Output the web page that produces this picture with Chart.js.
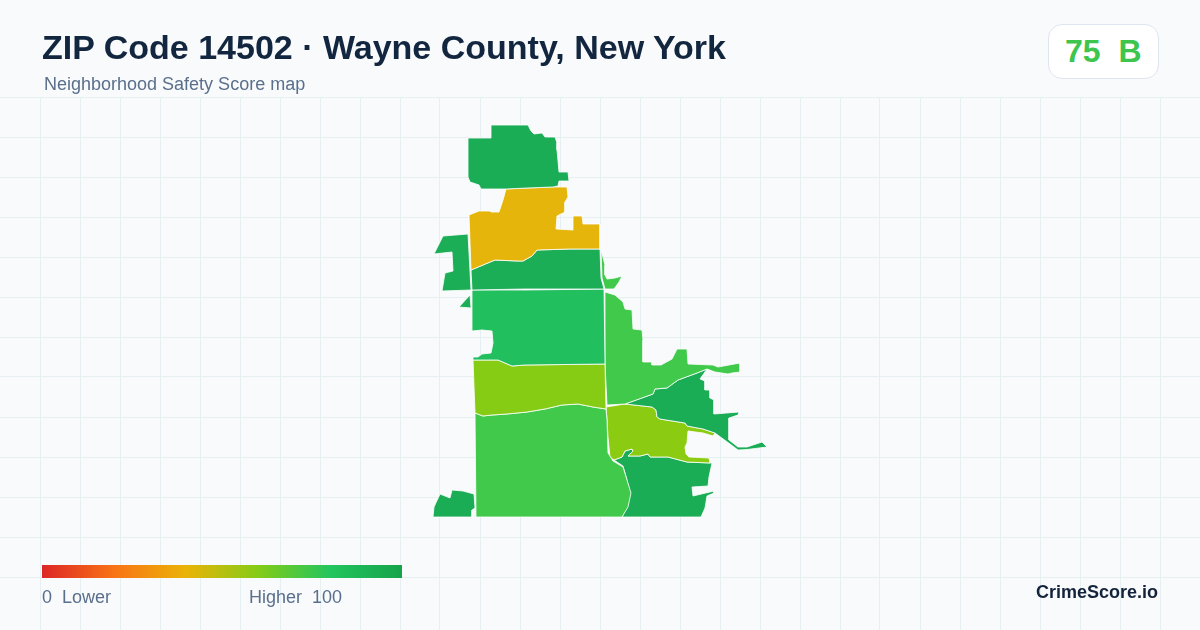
<!DOCTYPE html>
<html><head><meta charset="utf-8">
<script src="https://cdn.jsdelivr.net/npm/chart.js@4"></script>
<style>
html,body{margin:0;padding:0;width:1200px;height:630px;overflow:hidden;background:#f8fafc;font-family:"Liberation Sans",Arial,sans-serif}
#c{position:absolute;left:0;top:0;width:1200px;height:630px}
.t{position:absolute;white-space:pre;line-height:1}
#title{left:42px;top:30px;font-size:34px;font-weight:700;color:#12263f}
#sub{left:44px;top:75px;font-size:18px;color:#5a6f8c}
#badge{position:absolute;left:1048px;top:24px;width:109px;height:53px;background:#fff;border:1px solid #dfe5ee;border-radius:14px}
#score{left:1065px;top:35px;font-size:32px;font-weight:700;color:#3dc54e}
#bar{position:absolute;left:42px;top:565px;width:360px;height:13px;background:linear-gradient(90deg,#dc2626 0%,#f97316 20%,#eab308 40%,#84cc16 60%,#22c55e 80%,#16a34a 100%)}
#lo{left:42px;top:588px;font-size:18px;color:#5a6f8c}
#hi{right:858px;top:588px;font-size:18px;color:#5a6f8c}
#brand{right:42px;top:583px;font-size:18px;font-weight:700;color:#14233c}
</style></head><body>
<canvas id="c" width="1200" height="630"></canvas>
<div id="title" class="t">ZIP Code 14502 · Wayne County, New York</div>
<div id="sub" class="t">Neighborhood Safety Score map</div>
<div id="badge"></div><div id="score" class="t">75  B</div>
<div id="bar"></div>
<div id="lo" class="t">0  Lower</div><div id="hi" class="t">Higher  100</div>
<div id="brand" class="t">CrimeScore.io</div>
<script>
// Map-unit outlines: [easting, northing]
const northArea=[[51,372],[88,372],[91,366],[94,363],[102,364],[105,360],[115,360],[117,354],[117,347],[119,325],[128,325],[129,316],[119,316],[118,311],[113,310],[87,309],[66,308],[41,308],[39,312],[30,315],[28,320],[28,359],[51,359]];
const goldArea=[[66,308],[87,309],[113,310],[127,310],[128,300],[125,295],[125,285],[117,281],[116,268],[133,267],[133,281],[142,281],[143,273],[160,273],[160,248],[130,248],[97,247],[92,241],[83,236],[77,236],[55,237],[43,232],[31,227],[29,282],[39,286],[50,286],[51,285],[59,285],[63,297]];
const bandArea=[[31,227],[43,232],[55,237],[77,236],[83,236],[92,241],[97,247],[130,248],[160,248],[161,219],[164,208],[85,208],[32,207]];
const westArea=[[3,261],[28,263],[31,207],[2,206],[5,224],[13,226],[12,245],[-6,243]];
const westIslet=[[19,190],[30,202],[31,189]];
const middleArea=[[32,207],[85,207],[164,208],[165,133],[85,132],[72,131],[65,134],[58,137],[33,137],[33,140],[38,140],[42,143],[51,144],[53,154],[52,166],[42,167],[32,166]];
const limeArea=[[33,137],[58,137],[65,134],[72,131],[85,132],[165,133],[166,88],[153,90],[138,93],[122,92],[105,88],[87,85],[67,83],[52,82],[43,81],[35,84]];
const southArea=[[35,84],[43,81],[52,82],[67,83],[87,85],[105,88],[122,92],[138,93],[153,90],[166,88],[167,77],[168,44],[173,36],[183,30],[187,17],[191,4],[188,-10],[182,-20],[36,-20]];
const southwestArea=[[-7,-20],[-6,-10],[0,3],[10,-1],[12,7],[23,6],[34,3],[35,-11],[32,-13],[32,-20]];
const eastArea=[[165,205],[175,202],[183,195],[185,188],[192,187],[193,168],[202,167],[203,157],[203,135],[212,135],[212,132],[221,132],[232,138],[237,148],[247,148],[248,133],[273,132],[278,130],[300,134],[300,125],[292,124],[288,123],[275,125],[267,128],[257,124],[238,117],[227,109],[215,108],[213,103],[185,93],[167,92],[165,133]];
const eastIslet=[[161,247],[165,232],[165,222],[167,218],[175,219],[182,221],[179,215],[174,208],[165,208],[162,219]];
const lakeArea=[[185,93],[213,103],[215,108],[227,109],[238,117],[257,124],[267,128],[260,118],[265,116],[265,107],[270,107],[270,99],[274,97],[274,83],[299,85],[298,82],[289,79],[289,57],[298,50],[307,50],[322,55],[327,50],[307,47.5],[298,47],[290,53],[275,64],[263,68],[247,71],[245,74],[220,78],[217,80],[216,87],[212,90]];
const centerArea=[[166,90],[185,93],[212,90],[216,87],[217,80],[220,78],[245,74],[247,71],[263,68],[275,64],[273,61],[263,64],[248,66],[247,54],[245,50],[246,43],[249,40],[269,39],[270,34],[247,35],[228,40],[210,40],[208,43],[200,41],[188,41],[193,46],[192,48],[185,46],[182,40],[174,37],[170,40],[168,60],[167,77]];
const southeastArea=[[174,37],[182,40],[185,46],[192,48],[193,46],[188,41],[200,41],[208,43],[210,40],[228,40],[247,35],[270,34],[272,34],[269,20],[268,11],[252,10],[253,1],[274,6],[274,4],[267,1],[265,-11],[261,-20],[182,-20],[188,-8],[190,4],[187,17],[183,31]];

const areas=[northArea,westArea,westIslet,southwestArea,eastIslet,goldArea,bandArea,middleArea,limeArea,southArea,eastArea,lakeArea,centerArea,southeastArea];
const fills=['#1aad55','#1bae56','#1bae56','#1aad55','#41c94c','#e6b50b','#1cae57','#22bf5f','#86cc14','#41c94c','#41c94c','#1aad55','#8bcc12','#1aad55'];

const datasets=areas.map((a,i)=>({
  data:[...a,a[0]].map(p=>({x:p[0],y:p[1]})),
  showLine:true,fill:'shape',tension:0,pointRadius:0,pointHoverRadius:0,
  backgroundColor:fills[i],borderColor:'#ffffff',borderWidth:0.8,borderJoinStyle:'round',clip:false
}));
const keep40=s=>{s.ticks=s.ticks.filter(t=>t.value%40===0&&t.value>-440&&t.value<760)};
const gridStyle={color:'#e6eff2',lineWidth:1,drawTicks:false};
new Chart(document.getElementById('c'),{
  type:'scatter',
  data:{datasets},
  options:{
    responsive:false,animation:false,
    layout:{padding:{top:97,left:0,right:0,bottom:0},autoPadding:false},
    plugins:{legend:{display:false},tooltip:{enabled:false},title:{display:false}},
    scales:{
      x:{type:'linear',min:-440,max:760,ticks:{stepSize:40,display:false},grid:gridStyle,border:{display:false},afterBuildTicks:keep40},
      y:{type:'linear',min:-133,max:400,ticks:{stepSize:40,display:false},grid:gridStyle,border:{display:false},afterBuildTicks:keep40}
    }
  }
});
</script>
</body></html>
